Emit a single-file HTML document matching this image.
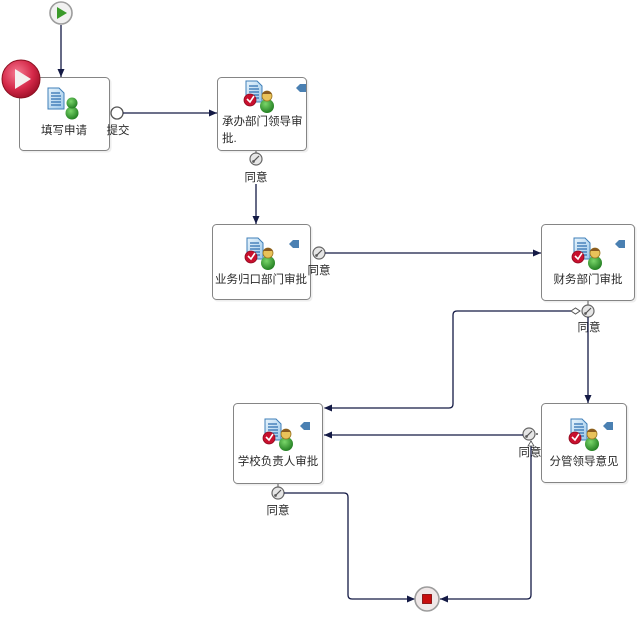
<!DOCTYPE html>
<html><head><meta charset="utf-8"><style>
html,body{margin:0;padding:0;background:#fff;}
svg{display:block;}
text{font-family:"Liberation Sans","Noto Sans CJK SC","WenQuanYi Zen Hei",sans-serif;font-size:11.5px;fill:#2a2a2a;}
</style></head><body>
<svg width="639" height="624" viewBox="0 0 639 624" xmlns="http://www.w3.org/2000/svg">
<defs>
<marker id="ar" markerWidth="9" markerHeight="8" refX="8" refY="3.5" orient="auto" markerUnits="userSpaceOnUse">
<path d="M0,0 L8,3.5 L0,7 z" fill="#141a45"/>
</marker>
<radialGradient id="rg" cx="40%" cy="35%" r="70%">
<stop offset="0" stop-color="#f67a92"/><stop offset="0.6" stop-color="#d42848"/><stop offset="1" stop-color="#9a0e26"/>
</radialGradient>
<linearGradient id="dg" x1="0" y1="0" x2="1" y2="1">
<stop offset="0" stop-color="#e8f4fc"/><stop offset="1" stop-color="#9cc8ea"/>
</linearGradient>
<radialGradient id="gg" cx="40%" cy="35%" r="70%">
<stop offset="0" stop-color="#7ad66a"/><stop offset="1" stop-color="#1e7a1e"/>
</radialGradient>
<g id="doc">
<path d="M-11,-12 L0,-12 L5,-7 L5,9 L-11,9 z" fill="url(#dg)" stroke="#3f7fb8" stroke-width="1"/>
<path d="M-8,-7 h9 M-8,-4 h10 M-8,-1 h10 M-8,2 h10 M-8,5 h10" stroke="#2f6fb0" stroke-width="1.2"/>
</g>
<g id="task">
<use href="#doc"/>
<circle cx="-7" cy="7" r="6" fill="#c8102e" stroke="#8a0a1e" stroke-width="0.8"/>
<path d="M-10,6 L-7,9 L-3,3" stroke="#fff" stroke-width="1.6" fill="none"/>
<circle cx="10" cy="13" r="7" fill="url(#gg)"/>
<circle cx="10" cy="3" r="5" fill="#e9c25a" stroke="#9a7420" stroke-width="0.8"/>
<path d="M5,1 Q10,-5 15,1" fill="#8a5a20"/>
</g>
<g id="gate">
<circle r="6" fill="#e6e6e6" stroke="#666" stroke-width="1.2"/>
<path d="M-3,3 L3,-3" stroke="#555" stroke-width="1.2"/>
<circle cx="-2.5" cy="2.5" r="1" fill="none" stroke="#555" stroke-width="0.7"/>
</g>
<path id="dm" d="M-5,0 L-1,-4 L5,-4 L5,4 L-1,4 z" fill="#4a80b2"/>
</defs>

<!-- start -->
<circle cx="61" cy="13" r="11" fill="#f1f1f1" stroke="#9c9c9c" stroke-width="1.6"/>
<path d="M57,7 L57,19 L67,13 z" fill="#3a9a2a"/>
<line x1="61" y1="25" x2="61" y2="77" stroke="#141a45" stroke-width="1.3" marker-end="url(#ar)"/>

<!-- box1 -->
<rect x="20.5" y="78.5" width="91" height="74" rx="4" fill="#eee"/>
<rect x="19.5" y="77.5" width="90" height="73" rx="4" fill="#fff" stroke="#858585" stroke-width="1"/>
<use href="#doc" transform="translate(59,100)"/>
<circle cx="72" cy="113" r="6.5" fill="url(#gg)"/>
<circle cx="72" cy="103" r="5.5" fill="url(#gg)"/>
<text x="64" y="134" text-anchor="middle">填写申请</text>
<circle cx="21" cy="79" r="19" fill="url(#rg)" stroke="#8a1020" stroke-width="1"/>
<path d="M15,69 L15,89 L31,79 z" fill="#f4f0f0"/>

<!-- output 1 -->
<circle cx="117" cy="113" r="6" fill="#fff" stroke="#555" stroke-width="1.3"/>
<text x="118" y="134" text-anchor="middle">提交</text>
<line x1="123" y1="113" x2="217" y2="113" stroke="#141a45" stroke-width="1.3" marker-end="url(#ar)"/>

<!-- box2 -->
<rect x="218.5" y="78.5" width="90" height="74" rx="4" fill="#eee"/>
<rect x="217.5" y="77.5" width="89" height="73" rx="4" fill="#fff" stroke="#858585" stroke-width="1"/>
<use href="#task" transform="translate(257,93)"/>
<use href="#dm" transform="translate(301,88)"/>
<text x="222" y="125">承办部门领导审</text>
<text x="222" y="142">批.</text>
<line x1="256" y1="151" x2="256" y2="154" stroke="#555"/>
<use href="#gate" transform="translate(256,159)"/>
<text x="256" y="181" text-anchor="middle">同意</text>
<line x1="256" y1="184" x2="256" y2="224" stroke="#141a45" stroke-width="1.3" marker-end="url(#ar)"/>

<!-- box3 -->
<rect x="213.5" y="225.5" width="99" height="76" rx="4" fill="#eee"/>
<rect x="212.5" y="224.5" width="98" height="75" rx="4" fill="#fff" stroke="#858585" stroke-width="1"/>
<use href="#task" transform="translate(258,250)"/>
<use href="#dm" transform="translate(294,244)"/>
<text x="261" y="283" text-anchor="middle">业务归口部门审批</text>
<use href="#gate" transform="translate(319,253)"/>
<text x="319" y="274" text-anchor="middle">同意</text>
<line x1="325" y1="253" x2="541" y2="253" stroke="#141a45" stroke-width="1.3" marker-end="url(#ar)"/>

<!-- box4 -->
<rect x="542.5" y="225.5" width="94" height="77" rx="4" fill="#eee"/>
<rect x="541.5" y="224.5" width="93" height="76" rx="4" fill="#fff" stroke="#858585" stroke-width="1"/>
<use href="#task" transform="translate(585,250)"/>
<use href="#dm" transform="translate(620,244)"/>
<text x="588" y="283" text-anchor="middle">财务部门审批</text>
<line x1="588" y1="301" x2="588" y2="305" stroke="#555"/>
<use href="#gate" transform="translate(588,311)"/>
<path d="M571,311 L575.5,308 L580,311 L575.5,314 z" fill="#fff" stroke="#555" stroke-width="1"/>
<path d="M571,311 L457,311 Q453,311 453,315 L453,404 Q453,408 449,408 L324,408" fill="none" stroke="#141a45" stroke-width="1.3" marker-end="url(#ar)"/>
<text x="589" y="331" text-anchor="middle">同意</text>
<line x1="588" y1="317" x2="588" y2="403" stroke="#141a45" stroke-width="1.3" marker-end="url(#ar)"/>

<!-- box5 -->
<rect x="234.5" y="404.5" width="90" height="81" rx="4" fill="#eee"/>
<rect x="233.5" y="403.5" width="89" height="80" rx="4" fill="#fff" stroke="#858585" stroke-width="1"/>
<use href="#task" transform="translate(276,431)"/>
<use href="#dm" transform="translate(305,426)"/>
<text x="278" y="465" text-anchor="middle">学校负责人审批</text>
<line x1="278" y1="484" x2="278" y2="487" stroke="#555"/>
<use href="#gate" transform="translate(278,493)"/>
<text x="278" y="514" text-anchor="middle">同意</text>
<path d="M284,493 L344,493 Q348,493 348,497 L348,595 Q348,599 352,599 L415,599" fill="none" stroke="#141a45" stroke-width="1.3" marker-end="url(#ar)"/>

<!-- box6 -->
<rect x="542.5" y="404.5" width="86" height="80" rx="4" fill="#eee"/>
<rect x="541.5" y="403.5" width="85" height="79" rx="4" fill="#fff" stroke="#858585" stroke-width="1"/>
<use href="#task" transform="translate(582,431)"/>
<use href="#dm" transform="translate(608,426)"/>
<text x="584" y="465" text-anchor="middle">分管领导意见</text>
<use href="#gate" transform="translate(529,434)"/>
<circle cx="537" cy="434" r="1" fill="#555"/>
<line x1="523" y1="435" x2="324" y2="435" stroke="#141a45" stroke-width="1.3" marker-end="url(#ar)"/>
<text x="530" y="456" text-anchor="middle">同意</text>
<path d="M531,441 L531,595 Q531,599 527,599 L440,599" fill="none" stroke="#141a45" stroke-width="1.3" marker-end="url(#ar)"/>
<path d="M528,446 L531,441 L534,446 z" fill="#fff" stroke="#555" stroke-width="0.8"/>

<!-- end -->
<circle cx="427" cy="599" r="12" fill="#efe7e7" stroke="#9c9c9c" stroke-width="1.6"/>
<rect x="422.5" y="594.5" width="9" height="9" fill="#c80c0c" stroke="#7a0000" stroke-width="0.8"/>
</svg>
</body></html>
